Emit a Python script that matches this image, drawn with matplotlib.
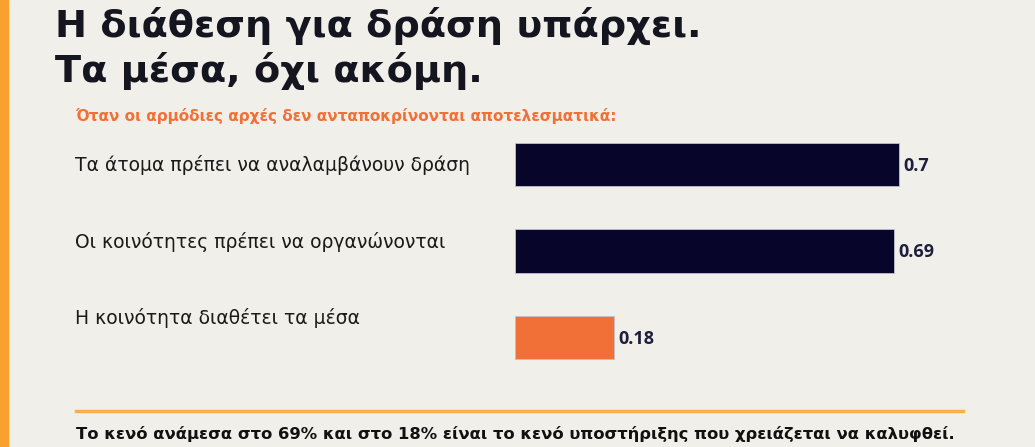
import matplotlib
matplotlib.use("Agg")
import matplotlib.pyplot as plt
import matplotlib.transforms as mtransforms

# data
categories = [
    "Τα άτομα πρέπει να αναλαμβάνουν δράση",
    "Οι κοινότητες πρέπει να οργανώνονται",
    "Η κοινότητα διαθέτει τα μέσα",
]
values = [0.70, 0.69, 0.18]
value_labels = ["0.7", "0.69", "0.18"]
bar_colors = ["#08052A", "#08052A", "#F07038"]
label_nudge = [0.0, 0.10, 0.22]  # category labels sit a bit higher on lower rows

title_lines = ["Η διάθεση για δράση υπάρχει.", "Τα μέσα, όχι ακόμη."]
subtitle = "Όταν οι αρμόδιες αρχές δεν ανταποκρίνονται αποτελεσματικά:"
footer = "Το κενό ανάμεσα στο 69% και στο 18% είναι το κενό υποστήριξης που χρειάζεται να καλυφθεί."

BG = "#F0EFEA"
W, H = 1035, 447
sans = ["DejaVu Sans"]

fig = plt.figure(figsize=(W / 100, H / 100), dpi=100, facecolor=BG)

# orange stripe on the left
fig.patches.append(plt.Rectangle((0, 0), 8 / W, 1, transform=fig.transFigure,
                                 color="#F9A12E", zorder=0))

for base, line in zip([37, 82], title_lines):
    fig.text(55 / W, 1 - base / H, line, ha="left", va="baseline", fontsize=27.5,
             fontweight="bold", color="#151520", family=sans)
fig.text(75 / W, 1 - 116 / H, subtitle, ha="left", va="center", fontsize=11,
         fontweight="bold", color="#F07038", family=sans)

# bars axes: y=-0.5 at 121.75 px, y=2.5 at 380.25 px
ax_left, ax_w = 515, 494
ax_top, ax_bot = 121.75, 380.25
ax = fig.add_axes([ax_left / W, 1 - ax_bot / H, ax_w / W, (ax_bot - ax_top) / H])
ax.set_facecolor("none")
ypos = list(range(len(categories)))
ax.barh(ypos, values, height=0.5, color=bar_colors, edgecolor="#BFBFCF",
        linewidth=0.6)
ax.set_xlim(0, 0.9)
ax.set_ylim(2.5, -0.5)
ax.axis("off")

for y, v, lab in zip(ypos, values, value_labels):
    ax.annotate(lab, (v, y), xytext=(3, -1), textcoords="offset points",
                ha="left", va="center", fontsize=13, fontweight="bold",
                color="#1E1E3C", family=["Open Sans", "DejaVu Sans"])

trans = mtransforms.blended_transform_factory(fig.transFigure, ax.transData)
for y, cat, dy in zip(ypos, categories, label_nudge):
    ax.text(75 / W, y - dy, cat, transform=trans, ha="left", va="center",
            fontsize=13.5, color="#1A1A1A", family=sans)

# footer rule and note
fig.add_artist(plt.Line2D([76 / W, 963 / W], [1 - 411 / H, 1 - 411 / H],
                          color="#F9B04A", linewidth=2.5, transform=fig.transFigure))
fig.text(76 / W, 1 - 434 / H, footer, ha="left", va="center", fontsize=11.75,
         fontweight="bold", color="#111111", family=sans)

fig.savefig("out.png", dpi=100, facecolor=BG)
